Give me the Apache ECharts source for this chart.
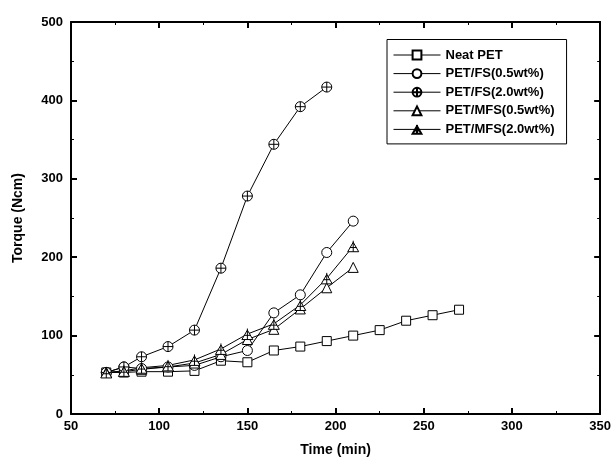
<!DOCTYPE html>
<html>
<head>
<meta charset="utf-8">
<script src="https://cdn.jsdelivr.net/npm/echarts@6/dist/echarts.min.js"></script>
<style>
  html, body { margin: 0; padding: 0; background: #fff; }
  #chart { width: 614px; height: 467px; }
</style>
</head>
<body>
<div id="chart"></div>
<script>
// time (min) for each series
const timeShort = [70, 80, 90, 105, 120, 135, 150, 165, 180, 195];
const timeMid = [70, 80, 90, 105, 120, 135, 150, 165, 180, 195, 210];
const timeLong = [70, 80, 90, 105, 120, 135, 150, 165, 180, 195, 210, 225, 240, 255, 270];

const neatPET = [53, 53, 54, 54, 55, 68, 66, 81, 86, 93, 100, 107, 119, 126, 133];
const fs05 = [53, 60, 58, 60, 62, 73, 81, 129, 152, 206, 246];
const fs20 = [53, 60, 73, 86, 107, 186, 278, 344, 392, 417];
const mfs05 = [53, 54, 57, 60, 65, 76, 95, 108, 134, 161, 187];
const mfs20 = [53, 55, 59, 62, 69, 83, 102, 115, 139, 173, 214];

const seriesNames = ['Neat PET', 'PET/FS(0.5wt%)', 'PET/FS(2.0wt%)', 'PET/MFS(0.5wt%)', 'PET/MFS(2.0wt%)'];

const xTicks = [50, 100, 150, 200, 250, 300, 350];
const yTicks = [0, 100, 200, 300, 400, 500];

const crossCircle = 'path://M0,-10 A10,10 0 1,1 0,10 A10,10 0 1,1 0,-10 Z M-10,0 L10,0 M0,-10 L0,10';
const crossTriangle = 'path://M0,-10 L10,8 L-10,8 Z M0,-13 L0,8 M-6,0 L6,0';

function pair(xs, ys) {
    return ys.map((v, i) => [xs[i], v]);
}

const font = 'Liberation Sans, Arial, sans-serif';

function makeSeries(name, data, symbol, size) {
    return {
        name: name,
        type: 'line',
        data: data,
        symbol: symbol,
        symbolSize: size,
        showAllSymbol: true,
        lineStyle: { color: '#000', width: 1 },
        itemStyle: { color: '#fff', borderColor: '#000', borderWidth: 1 },
        emphasis: { disabled: true },
        z: 3
    };
}

const chart = echarts.init(document.getElementById('chart'));

const axisCommon = {
    type: 'value',
    axisLine: { show: true, onZero: false, lineStyle: { color: '#000', width: 2 } },
    axisTick: { show: true, inside: true, length: 6, lineStyle: { color: '#000', width: 2 } },
    minorTick: { show: true, splitNumber: 2, length: 3, lineStyle: { color: '#000', width: 1 } },
    splitLine: { show: false }
};

const option = {
    backgroundColor: '#fff',
    animation: false,
    grid: { left: 71, right: 12, top: 22, bottom: 53, containLabel: false },
    legend: {
        orient: 'vertical',
        left: 387,
        top: 39.5,
        data: seriesNames,
        itemWidth: 47,
        itemHeight: 11,
        itemGap: 5.6,
        padding: [9, 12, 8, 6],
        borderColor: '#000',
        borderWidth: 1,
        borderRadius: 0,
        backgroundColor: '#fff',
        lineStyle: { width: 1 },
        textStyle: { fontFamily: font, fontWeight: 'bold', fontSize: 13, lineHeight: 13, color: '#000' }
    },
    xAxis: [
        Object.assign({}, axisCommon, {
            min: xTicks[0], max: xTicks[xTicks.length - 1], interval: 50,
            position: 'bottom',
            name: 'Time (min)',
            nameLocation: 'middle',
            nameGap: 29,
            nameTextStyle: { fontFamily: font, fontWeight: 'bold', fontSize: 14, color: '#000' },
            axisLabel: { fontFamily: font, fontWeight: 'bold', fontSize: 13, color: '#000', margin: 6 }
        }),
        Object.assign({}, axisCommon, {
            min: xTicks[0], max: xTicks[xTicks.length - 1], interval: 50,
            position: 'top',
            axisLabel: { show: false }
        })
    ],
    yAxis: [
        Object.assign({}, axisCommon, {
            min: yTicks[0], max: yTicks[yTicks.length - 1], interval: 100,
            position: 'left',
            name: 'Torque (Ncm)',
            nameLocation: 'middle',
            nameGap: 46,
            nameTextStyle: { fontFamily: font, fontWeight: 'bold', fontSize: 14, color: '#000' },
            axisLabel: { fontFamily: font, fontWeight: 'bold', fontSize: 13, color: '#000', margin: 8 }
        }),
        Object.assign({}, axisCommon, {
            min: yTicks[0], max: yTicks[yTicks.length - 1], interval: 100,
            position: 'right',
            axisLabel: { show: false }
        })
    ],
    series: [
        makeSeries(seriesNames[0], pair(timeLong, neatPET), 'rect', 9),
        makeSeries(seriesNames[1], pair(timeMid, fs05), 'circle', 10),
        makeSeries(seriesNames[2], pair(timeShort, fs20), crossCircle, 10),
        makeSeries(seriesNames[3], pair(timeMid, mfs05), 'triangle', 10),
        makeSeries(seriesNames[4], pair(timeMid, mfs20), crossTriangle, 11)
    ]
};

chart.setOption(option);
</script>
</body>
</html>
